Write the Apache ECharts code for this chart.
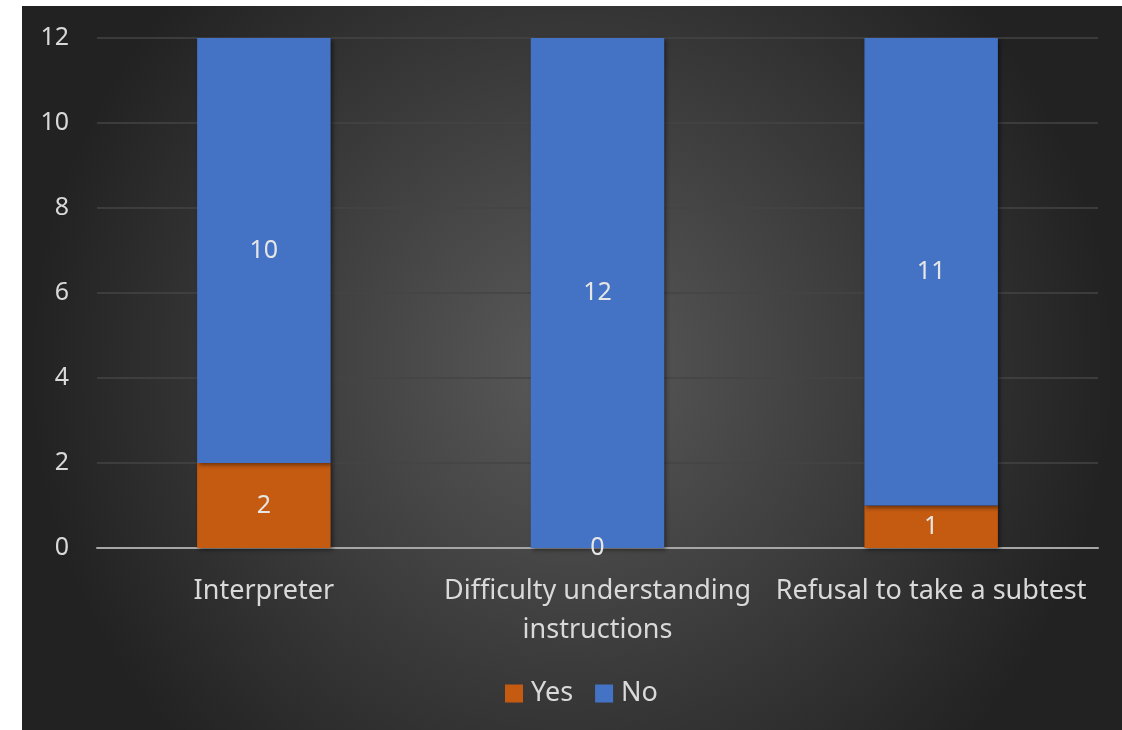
<!DOCTYPE html>
<html>
<head>
<meta charset="utf-8">
<script src="https://cdn.jsdelivr.net/npm/echarts@6/dist/echarts.min.js"></script>
<style>
html,body{margin:0;padding:0;background:#ffffff;width:1122px;height:730px;overflow:hidden;}
#chart{position:absolute;left:22px;top:6px;width:1100px;height:724px;}
</style>
</head>
<body>
<div id="chart"></div>
<script>
const categories = ['Interpreter', 'Difficulty understanding\ninstructions', 'Refusal to take a subtest'];
const yesValues = [2, 0, 1];
const noValues = [10, 12, 11];
const yTicks = [0, 2, 4, 6, 8, 10, 12];

const chart = echarts.init(document.getElementById('chart'));
const font = '"Noto Sans", "Open Sans", sans-serif';
const labelStyle = {show: true, position: 'inside', color: '#e6e6e6', fontSize: 25, fontFamily: font};
const shadow = {shadowBlur: 4, shadowColor: 'rgba(0,0,0,0.45)', shadowOffsetX: 2, shadowOffsetY: 2};
chart.setOption({
  backgroundColor: {
    type: 'radial', x: 0.5, y: 0.5, r: 0.75,
    colorStops: [{offset: 0, color: '#5a5a5a'}, {offset: 1, color: '#222222'}]
  },
  animation: false,
  grid: {left: 75, right: 24, top: 32, bottom: 182, containLabel: false},
  legend: {
    bottom: 18, left: 478,
    itemWidth: 18, itemHeight: 18, itemGap: 22,
    icon: 'rect',
    textStyle: {color: '#d9d9d9', fontSize: 27, fontFamily: font, padding: [0, 0, 0, 3]},
    data: ['Yes', 'No']
  },
  xAxis: {
    type: 'category', data: categories,
    axisLine: {lineStyle: {color: '#a6a6a6', width: 2}},
    axisTick: {show: false},
    axisLabel: {color: '#d9d9d9', fontSize: 27, fontFamily: font, margin: 24, lineHeight: 39, interval: 0}
  },
  yAxis: {
    type: 'value', min: 0, max: 12, interval: 2,
    axisLine: {show: false}, axisTick: {show: false},
    splitLine: {lineStyle: {color: '#454545', width: 1.5}},
    axisLabel: {color: '#d9d9d9', fontSize: 25, fontFamily: font, margin: 28,
      formatter: v => yTicks.includes(v) ? String(v) : ''}
  },
  series: [
    {name: 'Yes', type: 'bar', stack: 'a', data: yesValues, barWidth: '40%',
     itemStyle: Object.assign({color: '#C55A11'}, shadow), label: labelStyle},
    {name: 'No', type: 'bar', stack: 'a', data: noValues, barWidth: '40%',
     itemStyle: Object.assign({color: '#4472C4'}, shadow), label: labelStyle}
  ]
});
</script>
</body>
</html>
